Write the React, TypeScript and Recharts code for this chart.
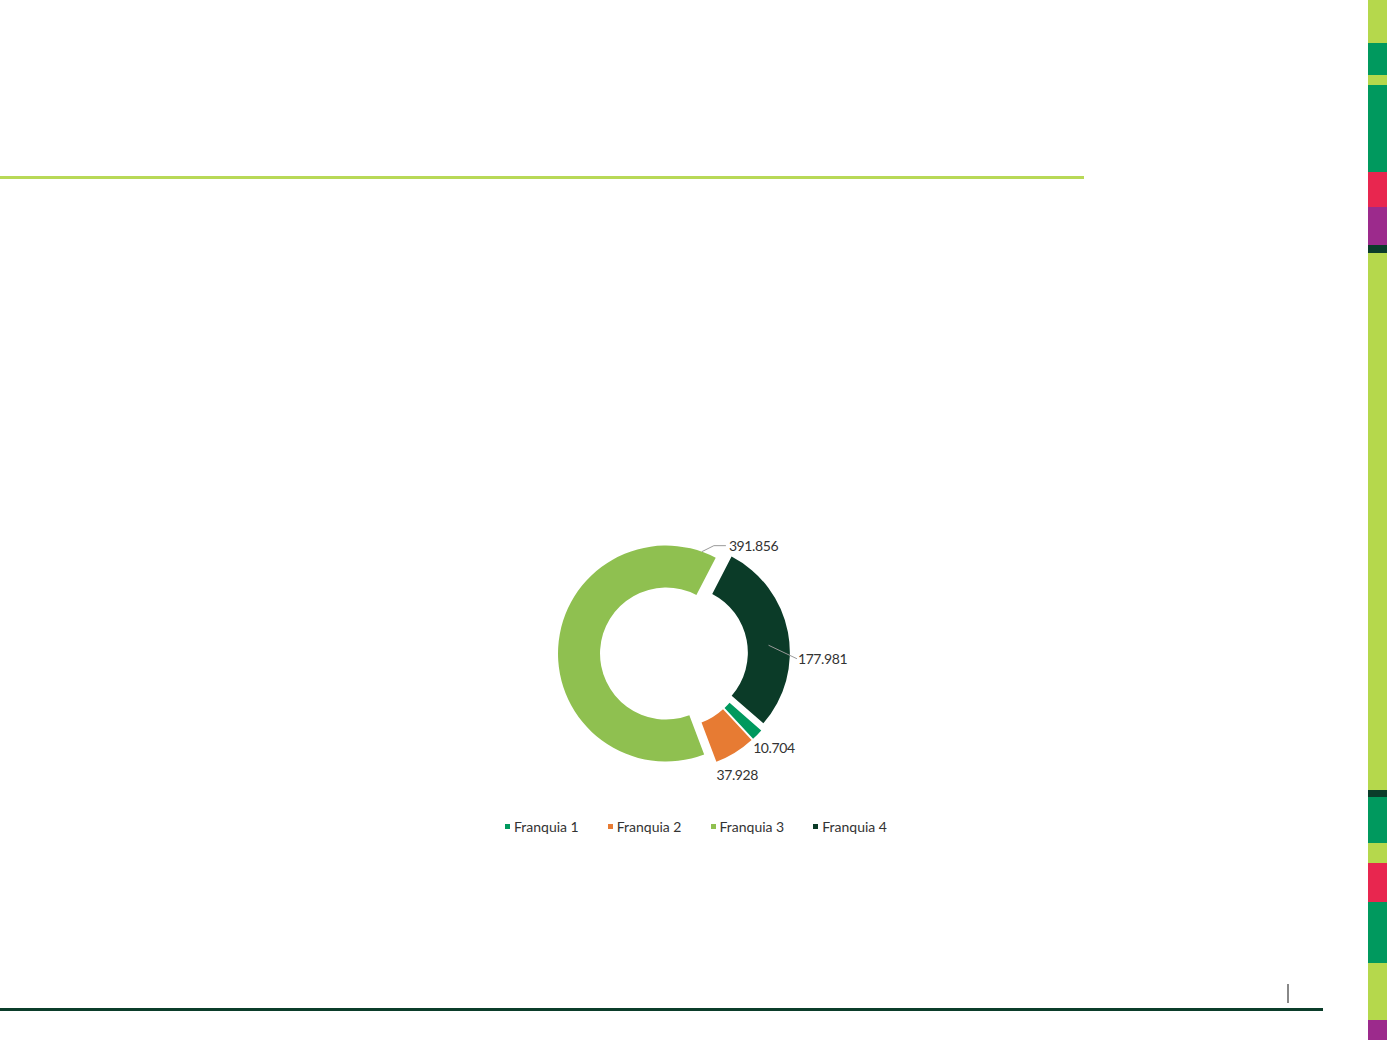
import React from 'react';
import { PieChart, Pie, Cell, Sector, Legend } from 'recharts';

const categories = ['Franquia 1', 'Franquia 2', 'Franquia 3', 'Franquia 4'];
const values = [10.704, 37.928, 391.856, 177.981];
const valueLabels = ['10.704', '37.928', '391.856', '177.981'];
const colors = ['#00995e', '#e77b33', '#8fc050', '#0b3b28'];

const data = categories.map((name, i) => ({ name, value: values[i], label: valueLabels[i] }));

// decorative strip on the right edge
const stripColors = ['#b5d84c', '#00995e', '#b5d84c', '#00995e', '#e8264f', '#9c2a8c', '#0b3d2a', '#b5d84c', '#0b3d2a', '#00995e', '#b5d84c', '#e8264f', '#00995e', '#b5d84c', '#9c2a8c'];
const stripStops = [0, 43, 75, 85, 172, 207, 245, 253, 790, 797, 843, 863, 902, 963, 1020, 1040];

const FONT = 'Lato, "Open Sans", sans-serif';
const RADIAN = Math.PI / 180;
const EXPLODE = 8;

const polar = (cx: number, cy: number, r: number, angle: number) => ({
  x: cx + r * Math.cos(-angle * RADIAN),
  y: cy + r * Math.sin(-angle * RADIAN),
});

const ExplodedSector = (props: any) => {
  const { cx, cy, midAngle } = props;
  const p = polar(cx, cy, EXPLODE, midAngle);
  return <Sector {...props} cx={p.x} cy={p.y} stroke="none" />;
};

const renderLabel = (props: any) => {
  const { cx, cy, midAngle, outerRadius, innerRadius, endAngle, index, payload } = props;
  const o = polar(cx, cy, EXPLODE, midAngle);
  const text = payload.label ?? valueLabels[index];
  const style = { fontFamily: FONT, fontSize: 14, fill: '#333', letterSpacing: -0.4 };
  if (index === 2) {
    const a = polar(o.x, o.y, outerRadius, endAngle + 360 + 8);
    const b = { x: a.x + 12, y: a.y - 6 };
    return (
      <g>
        <polyline points={`${a.x},${a.y} ${b.x},${b.y} ${b.x + 12},${b.y}`} stroke="#999" fill="none" strokeWidth={1} />
        <text x={b.x + 15} y={b.y} dominantBaseline="central" style={style}>{text}</text>
      </g>
    );
  }
  if (index === 3) {
    const a = polar(o.x, o.y, (innerRadius + outerRadius) / 2, midAngle - 6);
    const b = polar(cx, cy, outerRadius + 15, midAngle - 13);
    return (
      <g>
        <polyline points={`${a.x},${a.y} ${b.x},${b.y}`} stroke="#999" fill="none" strokeWidth={1} />
        <text x={b.x + 1} y={b.y} dominantBaseline="central" style={style}>{text}</text>
      </g>
    );
  }
  if (index === 0) {
    const a = polar(cx, cy, outerRadius + 12, midAngle);
    return <text x={a.x - 7} y={a.y + 10} dominantBaseline="central" style={style}>{text}</text>;
  }
  const a = polar(cx, cy, outerRadius + 18, midAngle);
  return <text x={a.x - 3} y={a.y + 13} textAnchor="middle" dominantBaseline="central" style={style}>{text}</text>;
};

const renderLegend = () => (
  <div style={{ display: 'flex', justifyContent: 'center', gap: 29, fontFamily: FONT, fontSize: 14, color: '#333' }}>
    {categories.map((c, i) => (
      <div key={c} style={{ display: 'flex', alignItems: 'center' }}>
        <span style={{ width: 5, height: 5, background: colors[i], marginRight: 4, display: 'inline-block' }} />
        <span>{c}</span>
      </div>
    ))}
  </div>
);

export default function App() {
  return (
    <div style={{ position: 'absolute', left: 0, top: 0, width: 1387, height: 1040, background: '#fff', overflow: 'hidden' }}>
      <div style={{ position: 'absolute', left: 0, top: 176, width: 1084, height: 3, background: '#b8d957' }} />
      <div style={{ position: 'absolute', left: 0, top: 1008, width: 1323, height: 3, background: '#0b3d2a' }} />
      <div style={{ position: 'absolute', left: 1287, top: 984, width: 2, height: 19, background: '#888' }} />
      {stripColors.map((c, i) => (
        <div key={i} style={{ position: 'absolute', left: 1368, top: stripStops[i], width: 19, height: stripStops[i + 1] - stripStops[i], background: c }} />
      ))}
      <div style={{ position: 'absolute', left: 0, top: 0 }}>
        <PieChart width={1360} height={1040} margin={{ top: 0, right: 0, bottom: 0, left: 0 }}>
          <Pie
            data={data}
            dataKey="value"
            nameKey="name"
            cx={674}
            cy={654}
            innerRadius={66}
            outerRadius={108}
            startAngle={-41}
            endAngle={-401}
            stroke="none"
            shape={ExplodedSector}
            label={renderLabel}
            labelLine={false}
            isAnimationActive={false}
          >
            {data.map((d, i) => (
              <Cell key={d.name} fill={colors[i]} />
            ))}
          </Pie>
          <Legend content={renderLegend} verticalAlign="bottom" wrapperStyle={{ top: 818, bottom: 'auto', left: 0, width: 1392 }} />
        </PieChart>
      </div>
    </div>
  );
}
